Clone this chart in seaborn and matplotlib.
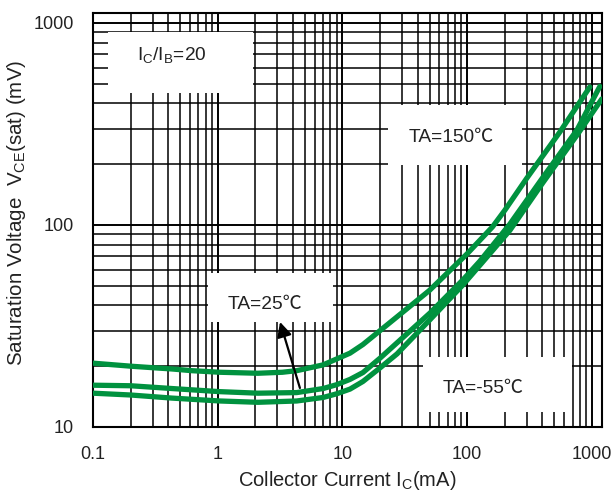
import numpy as np
import pandas as pd
import seaborn as sns
import matplotlib.pyplot as plt
from matplotlib.patches import Rectangle
from matplotlib.ticker import FixedLocator, FixedFormatter, LogLocator, NullFormatter

# Collector current (mA) and VCE(sat) (mV)
ic_a = [0.1, 0.2, 0.3, 0.43, 0.62, 1.04, 2.1, 3.3, 4.3, 7.0, 11.5, 14.6, 27.4, 50,
        100, 160, 200, 300, 555, 964]
vce_a = [20.7, 20.0, 19.66, 19.37, 19.0, 18.66, 18.45, 18.66, 19.0, 20.3, 23.2, 25.6,
         35.1, 47.5, 72, 98, 118, 170, 289, 482]

ic_b = [0.1, 0.2, 0.43, 1.04, 2.1, 4.3, 7.0, 9.0, 11.5, 14.6, 20, 27.4, 50.2, 92.5,
        126, 220, 405, 759, 1159]
vce_b = [16.1, 16.0, 15.5, 14.96, 14.7, 14.8, 15.5, 16.2, 17.2, 18.6, 21.9, 26.1, 36.6,
         53.5, 66, 101, 172, 295, 485]

ic_c = [0.1, 0.2, 0.43, 1.04, 2.1, 4.3, 7.0, 9.0, 11.5, 14.6, 20, 27.4, 50.2, 92.5,
        126, 220, 405, 759, 1200]
vce_c = [14.7, 14.4, 13.9, 13.45, 13.25, 13.45, 14.0, 14.6, 15.4, 16.8, 19.6, 23.0, 33.9,
         50.5, 63, 94, 162, 278, 420]

x_ticks = [0.1, 1, 10, 100, 1000]
x_labels = ['0.1', '1', '10', '100', '1000']
y_ticks = [10, 100, 1000]
y_labels = ['10', '100', '1000']

df = pd.concat([
    pd.DataFrame({'ic': ic_a, 'vce': vce_a, 'curve': 'a'}),
    pd.DataFrame({'ic': ic_b, 'vce': vce_b, 'curve': 'b'}),
    pd.DataFrame({'ic': ic_c, 'vce': vce_c, 'curve': 'c'}),
])

sns.set_style("white")
plt.rcParams['font.family'] = ['Liberation Sans', 'Noto Sans CJK SC', 'DejaVu Sans']
plt.rcParams['mathtext.fontset'] = 'custom'
plt.rcParams['mathtext.rm'] = 'Liberation Sans'
plt.rcParams['mathtext.it'] = 'Liberation Sans'

fig = plt.figure(figsize=(6.14, 4.95), dpi=100)
ax = fig.add_axes([0.1515, 0.1374, 0.8285, 0.8363])

green = '#00923f'
sns.lineplot(data=df, x='ic', y='vce', hue='curve', palette=[green] * 3,
             linewidth=3.8, legend=False, ax=ax, zorder=5, sort=False, estimator=None,
             solid_joinstyle='round')

ax.set_xscale('log')
ax.set_yscale('log')
ax.set_xlim(0.1, 1200)
ax.set_ylim(10, 1120)

ax.xaxis.set_major_locator(FixedLocator(x_ticks))
ax.xaxis.set_major_formatter(FixedFormatter(x_labels))
ax.yaxis.set_major_locator(FixedLocator(y_ticks))
ax.yaxis.set_major_formatter(FixedFormatter(y_labels))
ax.xaxis.set_minor_locator(LogLocator(base=10, subs=np.arange(2, 10)))
ax.yaxis.set_minor_locator(LogLocator(base=10, subs=np.arange(2, 10)))
ax.xaxis.set_minor_formatter(NullFormatter())
ax.yaxis.set_minor_formatter(NullFormatter())

ax.grid(True, which='major', color='black', linewidth=1.4, zorder=1)
ax.grid(True, which='minor', color='black', linewidth=1.1, zorder=1)
ax.set_axisbelow(True)
ax.tick_params(which='both', length=0, labelsize=13, colors='#222222')
ax.tick_params(axis='x', pad=14)
ax.tick_params(axis='y', pad=14)
for s in ax.spines.values():
    s.set_color('black')
    s.set_linewidth(1.5)

# white label boxes over the grid
boxes = [
    ((0.0295, 0.807), 0.285, 0.147, 0.155, 0.899, r'I$_\mathrm{C}$/I$_\mathrm{B}$=20'),
    ((0.580, 0.633), 0.263, 0.145, 0.705, 0.700, 'TA=150℃'),
    ((0.226, 0.254), 0.246, 0.118, 0.338, 0.295, 'TA=25℃'),
    ((0.648, 0.036), 0.293, 0.133, 0.766, 0.094, 'TA=-55℃'),
]
for (x0, y0), w, h, tx, ty, label in boxes:
    ax.add_patch(Rectangle((x0, y0), w, h, transform=ax.transAxes,
                           facecolor='white', edgecolor='none', zorder=3))
    ax.text(tx, ty, label, transform=ax.transAxes, ha='center', va='center',
            fontsize=13.8, color='#222222', zorder=6)

ax.annotate('', xy=(3.16, 33.1), xytext=(4.56, 15.6),
            arrowprops=dict(arrowstyle='-|>', color='black', lw=1.6,
                            mutation_scale=22, shrinkA=0, shrinkB=0), zorder=7)

ax.set_xlabel(r'Collector Current I$_\mathrm{C}$(mA)', fontsize=14.5, color='#222222', labelpad=4)
ax.set_ylabel(r'Saturation Voltage  V$_\mathrm{CE}$(sat) (mV)', fontsize=14.8, color='#222222')
ax.yaxis.set_label_coords(-0.128, 0.517)

fig.savefig('out.png', dpi=100)
